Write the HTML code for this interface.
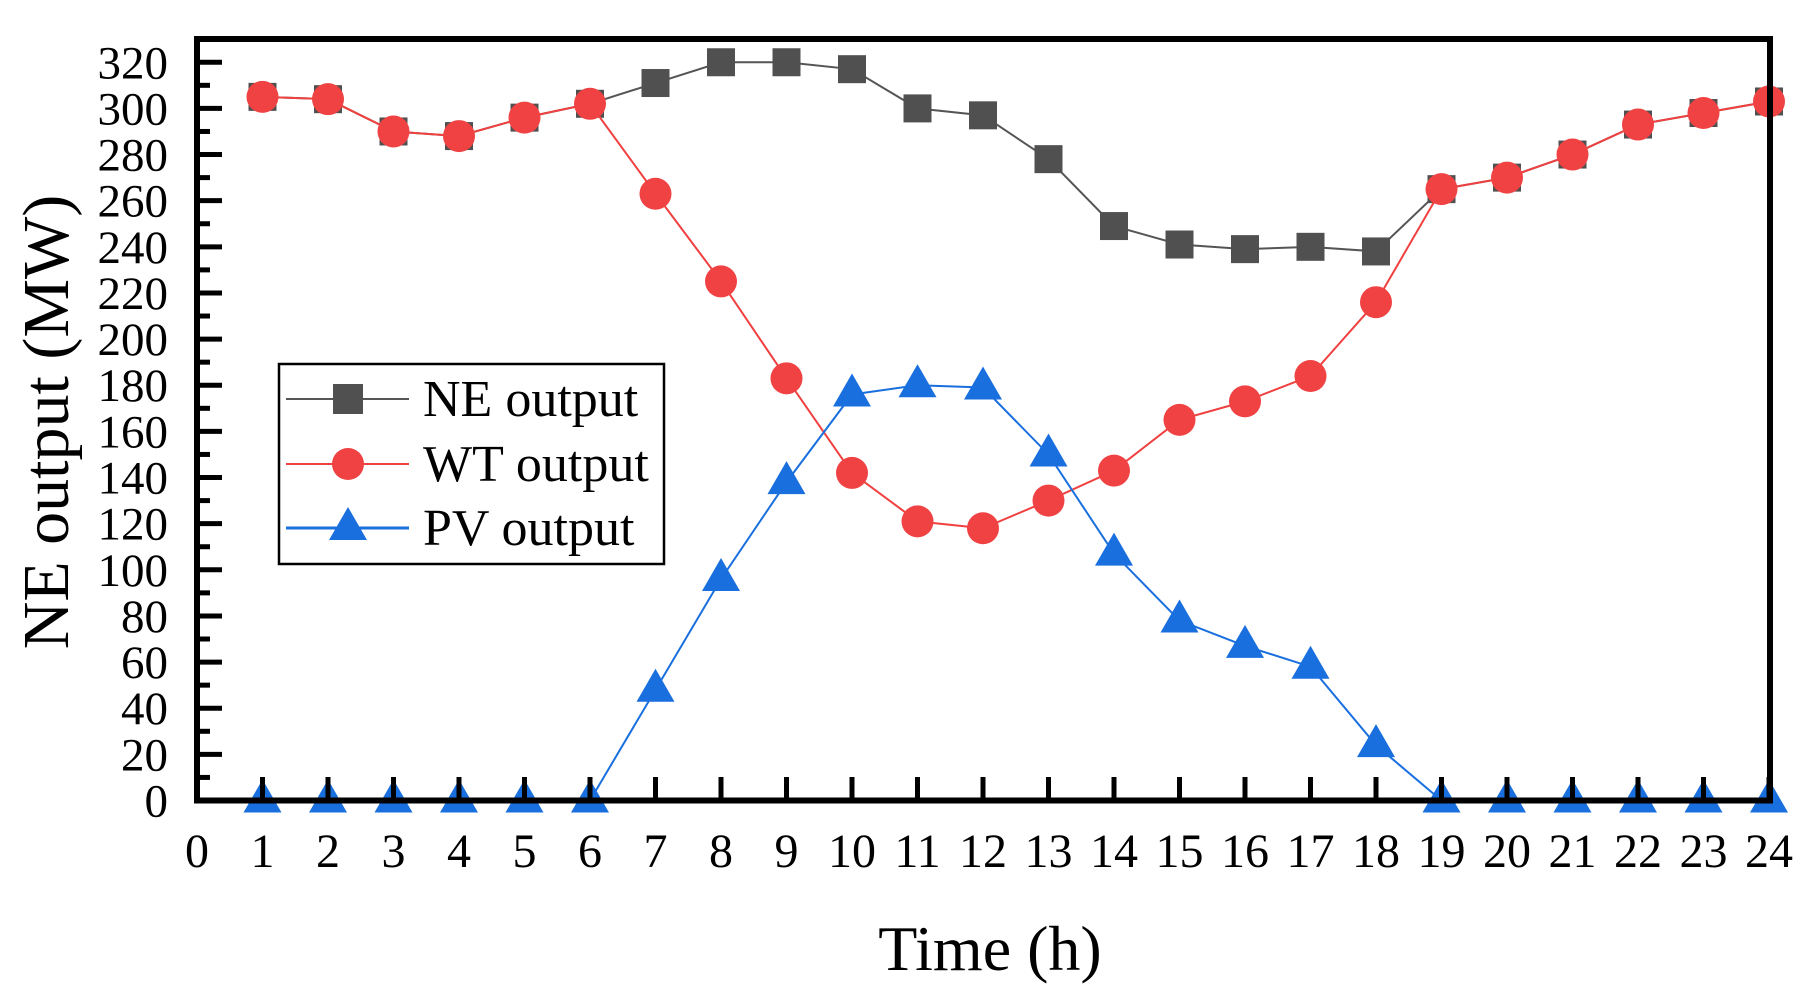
<!DOCTYPE html>
<html><head><meta charset="utf-8"><style>
body{margin:0;background:#fff;}
svg{display:block;font-family:"Liberation Serif",serif;}
</style></head><body>
<svg id="chart" width="1817" height="990" viewBox="0 0 1817 990" xmlns="http://www.w3.org/2000/svg">
<g id="marks"></g>
<g id="axes"></g>
</svg>
<script>
const hours=[1,2,3,4,5,6,7,8,9,10,11,12,13,14,15,16,17,18,19,20,21,22,23,24];
const neVals=[305,304,290,288,296,302,311,320,320,317,300,297,278,249,241,239,240,238,265,270,280,293,298,303];
const wtVals=[305,304,290,288,296,302,263,225,183,142,121,118,130,143,165,173,184,216,265,270,280,293,298,303];
const pvVals=[0,0,0,0,0,0,48,96,138,176,180,179,150,107,78,67,58,24,0,0,0,0,0,0];
const xTicks=[0,1,2,3,4,5,6,7,8,9,10,11,12,13,14,15,16,17,18,19,20,21,22,23,24];
const yTicks=[0,20,40,60,80,100,120,140,160,180,200,220,240,260,280,300,320];

const NS="http://www.w3.org/2000/svg";
const X0=197,DX=65.5,Y0=800.5,KY=2.307;
const xs=v=>X0+v*DX, ys=v=>Y0-v*KY;
const marks=document.getElementById('marks'), axes=document.getElementById('axes');
function mk(tag,attrs,parent){const e=document.createElementNS(NS,tag);for(const k in attrs)e.setAttribute(k,attrs[k]);parent.appendChild(e);return e;}

function series(vals,color,mcolor,kind,name){
  const g=mk('g',{},marks);
  
  
  const pts=vals.map((v,i)=>xs(hours[i])+','+ys(v)).join(' ');
  const l=mk('polyline',{points:pts,fill:'none',stroke:color,'stroke-width':2},g);
  
  
  vals.forEach((v,i)=>{
    const cx=xs(hours[i]),cy=ys(v);let m;
    if(kind==='sq')m=mk('rect',{x:cx-14,y:cy-14,width:28,height:28,fill:mcolor},g);
    else if(kind==='ci')m=mk('circle',{cx:cx,cy:cy,r:16,fill:mcolor},g);
    else m=mk('polygon',{points:`${cx},${cy-21} ${cx-19},${cy+12} ${cx+19},${cy+12}`,fill:mcolor},g);
    
    
  });
}
series(neVals,'#555','#505050','sq','ne-output');
series(wtVals,'#f04040','#f04242','ci','wt-output');
series(pvVals,'#1a6fdf','#1a6fdf','tr','pv-output');

const fr=mk('rect',{x:197,y:39,width:1573,height:761.5,fill:'none',stroke:'#000','stroke-width':6},axes);


yTicks.forEach(v=>{
  const y=ys(v);
  const t=mk('line',{x1:197,x2:222,y1:y,y2:y,stroke:'#000','stroke-width':5},axes);
  
  
  if(v<320){const y2=ys(v+10);const m=mk('line',{x1:197,x2:210,y1:y2,y2:y2,stroke:'#000','stroke-width':5},axes);
  
  }
  const tx=mk('text',{x:168,y:y+16,'text-anchor':'end','font-size':47},axes);
  tx.textContent=v;
  
  
});
xTicks.forEach(v=>{
  const x=xs(v);
  const t=mk('line',{x1:x,x2:x,y1:800,y2:777,stroke:'#000','stroke-width':5},axes);
  
  
  const tx=mk('text',{x:x,y:867,'text-anchor':'middle','font-size':48},axes);
  tx.textContent=v;
  
  
});
const xt=mk('text',{x:990,y:970,'text-anchor':'middle','font-size':64},axes);
xt.textContent='Time (h)';


const yt=mk('text',{x:0,y:0,'text-anchor':'middle','font-size':66,transform:'translate(68,422) rotate(-90)'},axes);
yt.textContent='NE output (MW)';



const lg=mk('g',{},axes);


mk('rect',{x:279,y:364,width:385,height:200,fill:'#fff',stroke:'#000','stroke-width':2.5},lg);
const leg=[['NE output','#555','#505050','sq',399],['WT output','#f04040','#f04242','ci',464],['PV output','#1a6fdf','#1a6fdf','tr',528]];
leg.forEach(([lab,c,mc,k,y])=>{
  const e=mk('g',{},lg);
  
  
  mk('line',{x1:286,x2:409,y1:y,y2:y,stroke:c,'stroke-width':k==='tr'?3:2},e);
  const cx=348;
  if(k==='sq')mk('rect',{x:cx-15,y:y-15,width:30,height:30,fill:mc},e);
  else if(k==='ci')mk('circle',{cx:cx,cy:y,r:16,fill:mc},e);
  else mk('polygon',{points:`${cx},${y-21} ${cx-19},${y+12} ${cx+19},${y+12}`,fill:mc},e);
  const t=mk('text',{x:423,y:y+17,'font-size':52},e);
  t.textContent=lab;
});
</script>
</body></html>
